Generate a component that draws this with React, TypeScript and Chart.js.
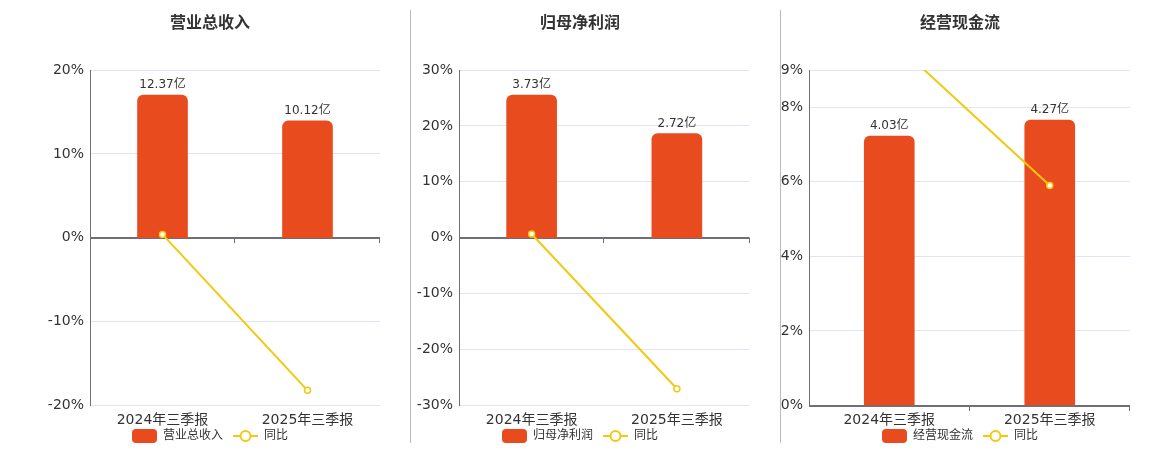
import React from 'react'
import { Chart, registerables, type ChartConfiguration, type Plugin } from 'chart.js'

Chart.register(...registerables)

// Categories and series
const periods = ['2024年三季报', '2025年三季报']
const yoyName = '同比'

const revenueName = '营业总收入'
const revenueValues = [12.37, 10.12] // 亿
const revenueYoY = [0.4, -18.19] // %
const revenueTicks = [-20, -10, 0, 10, 20]

const profitName = '归母净利润'
const profitValues = [3.73, 2.72]
const profitYoY = [0.66, -27.0]
const profitTicks = [-30, -20, -10, 0, 10, 20, 30]

const cashName = '经营现金流'
const cashValues = [4.03, 4.27]
const cashYoY = [9.87, 5.9]
const cashTicks = [0, 2, 4, 6, 8, 9]

const FONT = "'DejaVu Sans', 'Noto Sans CJK SC', sans-serif"
const BAR_COLOR = '#E84C1E'
const LINE_COLOR = '#F2C811'
const AXIS_COLOR = '#6E7079'
const GRID_COLOR = '#E0E6F1'
const TEXT_COLOR = '#333'
const CANVAS_HEIGHT = 452

function makeBarSymbol() {
  const c = document.createElement('canvas')
  c.width = 25
  c.height = 14
  const ctx = c.getContext('2d')!
  ctx.fillStyle = BAR_COLOR
  ctx.beginPath()
  ctx.roundRect(0, 0, 25, 14, 4)
  ctx.fill()
  return c
}

function makeLineSymbol() {
  const c = document.createElement('canvas')
  c.width = 25
  c.height = 14
  const ctx = c.getContext('2d')!
  ctx.strokeStyle = LINE_COLOR
  ctx.lineWidth = 2
  ctx.beginPath()
  ctx.moveTo(0, 7)
  ctx.lineTo(25, 7)
  ctx.stroke()
  ctx.beginPath()
  ctx.arc(12.5, 7, 5, 0, Math.PI * 2)
  ctx.fillStyle = '#fff'
  ctx.fill()
  ctx.stroke()
  return c
}

// "12.37亿" above each bar
const barValueLabels: Plugin = {
  id: 'barValueLabels',
  afterDatasetsDraw(chart) {
    const meta = chart.getDatasetMeta(0)
    const data = chart.data.datasets[0].data as number[]
    const ctx = chart.ctx
    ctx.save()
    ctx.font = `12px ${FONT}`
    ctx.fillStyle = TEXT_COLOR
    ctx.textAlign = 'center'
    ctx.textBaseline = 'middle'
    meta.data.forEach((el, i) => {
      ctx.fillText(`${data[i].toFixed(2)}亿`, el.x, el.y - 10)
    })
    ctx.restore()
  }
}

// small category-boundary ticks hanging under the zero line
const zeroAxisTicks: Plugin = {
  id: 'zeroAxisTicks',
  afterDatasetsDraw(chart) {
    const { ctx, chartArea } = chart
    const y = Math.round(chart.scales.y.getPixelForValue(0))
    const n = chart.data.labels!.length
    const step = (chartArea.right - chartArea.left) / n
    ctx.save()
    ctx.strokeStyle = AXIS_COLOR
    ctx.lineWidth = 1
    for (let i = 1; i <= n; i++) {
      const x = Math.round(chartArea.left + i * step) - 0.5
      ctx.beginPath()
      ctx.moveTo(x, y)
      ctx.lineTo(x, y + 5)
      ctx.stroke()
    }
    ctx.restore()
  }
}

interface PanelProps {
  title: string
  values: number[]
  yoy: number[]
  ticks: number[]
  left: number
  width: number
  axisLeft: number
  axisRight: number
}

function Panel({ title, values, yoy, ticks, left, width, axisLeft, axisRight }: PanelProps) {
  const ref = React.useRef<HTMLCanvasElement>(null)

  React.useEffect(() => {
    if (!ref.current) return
    const barSymbol = makeBarSymbol()
    const lineSymbol = makeLineSymbol()
    const barMax = Math.max(...values) * 1.175
    const barMin = ticks[0] < 0 ? -barMax : 0

    const config: ChartConfiguration = {
      type: 'bar',
      data: {
        labels: periods,
        datasets: [
          {
            type: 'bar',
            label: title,
            data: values,
            yAxisID: 'y1',
            backgroundColor: BAR_COLOR,
            barThickness: 50,
            borderRadius: { topLeft: 6, topRight: 6, bottomLeft: 0, bottomRight: 0 },
            borderSkipped: 'start',
            order: 1
          },
          {
            type: 'line',
            label: yoyName,
            data: yoy,
            yAxisID: 'y',
            borderColor: LINE_COLOR,
            borderWidth: 2,
            pointRadius: 3,
            pointBorderWidth: 1.5,
            pointBackgroundColor: '#fff',
            pointBorderColor: LINE_COLOR,
            tension: 0,
            order: 0
          }
        ]
      },
      options: {
        responsive: false,
        animation: false,
        layout: { padding: 0 },
        scales: {
          x: {
            // mirrored labels with negative padding: the labels sit ~14.5px
            // under the plot while the axis box stays short, so the legend
            // can come up close underneath
            grid: {
              display: true,
              drawOnChartArea: false,
              drawTicks: true,
              tickLength: 60.3,
              tickColor: 'rgba(0,0,0,0)'
            },
            border: { display: false },
            ticks: {
              color: TEXT_COLOR,
              mirror: true,
              padding: -22.9,
              font: { family: FONT, size: 14 }
            }
          },
          y: {
            position: 'left',
            min: ticks[0],
            max: ticks[ticks.length - 1],
            afterBuildTicks: (scale) => {
              scale.ticks = ticks.map((v) => ({ value: v }))
            },
            afterFit: (scale) => {
              scale.width = axisLeft
            },
            grid: {
              drawTicks: false,
              color: (c) => (c.tick && c.tick.value === 0 ? AXIS_COLOR : GRID_COLOR),
              lineWidth: (c) => (c.tick && c.tick.value === 0 ? 2 : 1)
            },
            border: { display: true, color: AXIS_COLOR, width: 1 },
            ticks: {
              color: TEXT_COLOR,
              padding: 6,
              font: { family: FONT, size: 14 },
              callback: (v) => `${v}%`
            }
          },
          y1: {
            position: 'right',
            min: barMin,
            max: barMax,
            afterFit: (scale) => {
              scale.width = axisRight
            },
            grid: { display: false, drawTicks: false },
            border: { display: false },
            ticks: { display: false }
          }
        },
        plugins: {
          title: {
            display: true,
            text: title,
            color: TEXT_COLOR,
            font: { family: FONT, size: 16, weight: 'bold' },
            padding: { top: 14, bottom: 36.8 }
          },
          legend: {
            position: 'bottom',
            labels: {
              usePointStyle: true,
              pointStyleWidth: 25,
              padding: 10,
              color: TEXT_COLOR,
              font: { family: FONT, size: 12 },
              sort: (a, b) => (a.datasetIndex ?? 0) - (b.datasetIndex ?? 0),
              generateLabels: (chart) =>
                Chart.defaults.plugins.legend.labels.generateLabels(chart).map((item) => ({
                  ...item,
                  pointStyle: item.datasetIndex === 0 ? barSymbol : lineSymbol
                }))
            }
          },
          tooltip: { enabled: false }
        }
      },
      plugins: [zeroAxisTicks, barValueLabels]
    }

    const chart = new Chart(ref.current, config)
    return () => chart.destroy()
  }, [title, values, yoy, ticks, axisLeft, axisRight])

  return (
    <canvas
      ref={ref}
      width={width}
      height={CANVAS_HEIGHT}
      style={{ position: 'absolute', left, top: 0, width, height: CANVAS_HEIGHT }}
    />
  )
}

function Divider({ left }: { left: number }) {
  return (
    <div
      style={{ position: 'absolute', left, top: 10, width: 1, height: 433, background: '#BBBBBB', zIndex: 2 }}
    />
  )
}

export default function App() {
  return (
    <div
      style={{
        position: 'absolute',
        left: 0,
        top: 0,
        width: 1160,
        height: 450,
        overflow: 'hidden',
        background: '#fff'
      }}
    >
      <Panel
        title={revenueName}
        values={revenueValues}
        yoy={revenueYoY}
        ticks={revenueTicks}
        left={0}
        width={420}
        axisLeft={90}
        axisRight={40}
      />
      <Panel
        title={profitName}
        values={profitValues}
        yoy={profitYoY}
        ticks={profitTicks}
        left={405}
        width={350}
        axisLeft={54}
        axisRight={5}
      />
      <Panel
        title={cashName}
        values={cashValues}
        yoy={cashYoY}
        ticks={cashTicks}
        left={770}
        width={380}
        axisLeft={39}
        axisRight={20}
      />
      <Divider left={410} />
      <Divider left={780} />
    </div>
  )
}
